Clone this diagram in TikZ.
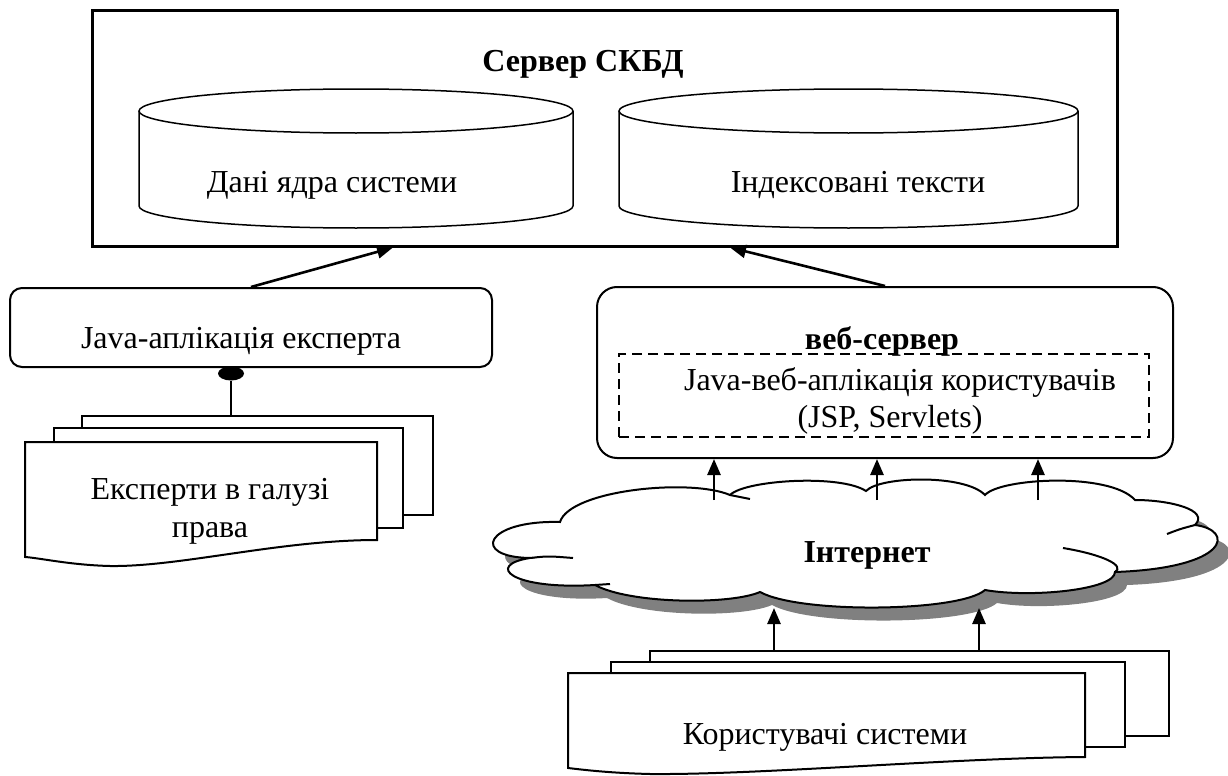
\documentclass[tikz,border=0pt]{standalone}
\usepackage{fontspec}
\setmainfont{Liberation Serif}
\usetikzlibrary{arrows.meta,shapes.geometric,calc}

\tikzset{
  arr/.style={line width=1.3pt, -{Triangle[length=8pt,width=6.5pt]}},
  box/.style={draw, line width=1pt, fill=white, inner sep=0pt},
  lbl/.style={anchor=base, inner sep=0pt},
  sheet/.style={draw, line width=1pt, fill=white},
  dbase/.style={draw, line width=0.75pt, fill=white},
}
% outline of the internet cloud, clockwise from the upper left
\newcommand{\inetcloud}{(560,522) .. controls (570,490) and (690,478) .. (730,495)
  .. controls (745,480) and (840,474) .. (866,491)
  .. controls (880,476) and (965,474) .. (985,495)
  .. controls (1000,478) and (1110,472) .. (1135,500)
  .. controls (1170,500) and (1210,510) .. (1195,525)
  .. controls (1235,530) and (1230,568) .. (1115,572)
  .. controls (1115,590) and (1030,598) .. (985,590)
  .. controls (960,612) and (800,614) .. (760,592)
  .. controls (730,605) and (630,604) .. (595,585)
  .. controls (510,590) and (485,565) .. (530,558)
  .. controls (470,557) and (485,520) .. (560,522) -- cycle}

\begin{document}
\begin{tikzpicture}[x=0.5pt, y=-0.5pt, font=\fontsize{16}{19}\selectfont]
  \useasboundingbox (0,0) rectangle (1228,776);

  % DBMS server
  \node[box, line width=1.5pt, minimum width=512.5pt, minimum height=118pt] (dbms) at (604.5,128) {};
  \node[lbl] (dbmstitle) at (583,71) {\bfseries Сервер СКБД};

  \path[dbase] (139,111) -- (139,206) arc[start angle=180, end angle=0, x radius=217, y radius=22] -- (573,111);
  \draw[line width=0.75pt] (356,111) ellipse [x radius=217, y radius=22];
  \node[lbl] (coredata) at (332,192) {Дані ядра системи};

  \path[dbase] (619,111) -- (619,206) arc[start angle=180, end angle=0, x radius=229.5, y radius=22] -- (1078,111);
  \draw[line width=0.75pt] (848.5,111) ellipse [x radius=229.5, y radius=22];
  \node[lbl] (indexed) at (858,192) {Індексовані тексти};

  % expert side
  \node[box, rounded corners=6pt, minimum width=241pt, minimum height=39.5pt] (javabox) at (251,327.5) {};
  \node[lbl] (javatxt) at (241,348) {Java-аплікація експерта};
  \draw[arr] (javabox.north) -- (393,0 |- dbms.south);

  \path[sheet] (82,416) rectangle (433,515);
  \path[sheet] (54,428) rectangle (403,528);
  \path[sheet] (25,442) -- (377,442) -- (377,540) .. controls (280,540) and (180,567) .. (110,566) .. controls (70,565) and (40,558) .. (25,557) -- cycle;
  \node[lbl, align=center] (experts) at (210,537) {Експерти в галузі\\права};
  \coordinate (exptop) at (231,416);
  \node[ellipse, fill, inner sep=0pt, minimum width=13pt, minimum height=7pt] (expdot) at (231,373.5) {};
  \draw[line width=1pt] (expdot) -- (exptop);

  % web server
  \node[box, rounded corners=10pt, minimum width=288pt, minimum height=85.5pt] (webbox) at (885,372.5) {};
  \node[draw, line width=1pt, dash pattern=on 5pt off 3pt, minimum width=265pt, minimum height=41.5pt] (webapp) at (884,395.5) {};
  \node[lbl] (webtitle) at (882,349) {\bfseries веб-сервер};
  \node[lbl] (webtxt) at (900,390) {Java-веб-аплікація користувачів};
  \node[lbl] (webtxt2) at (890,427) {(JSP, Servlets)};
  \draw[arr] (webbox.north) -- (730,0 |- dbms.south);

  % internet
  \fill[black!50, shift={(12,13)}] \inetcloud;
  \filldraw[fill=white, line width=1pt] \inetcloud;
  \draw[line width=1pt] (530,558) .. controls (548,556) .. (573,558);
  \draw[line width=1pt] (595,585) -- (610,584);
  \draw[line width=1pt] (1063,548) .. controls (1105,555) and (1125,566) .. (1115,572);
  \draw[line width=1pt] (1167,534) .. controls (1180,529) .. (1195,525);
  \draw[line width=1pt] (730,495) -- (750,499);
  \node[lbl] (inet) at (867,562) {\bfseries Інтернет};
  \coordinate (inettop) at (0,500);
  \coordinate (inetbot) at (0,608);
  \foreach \x in {714,877,1038}
    \draw[arr] (\x,0 |- inettop) -- (\x,0 |- webbox.south);

  % users
  \coordinate (usrtop) at (0,651);
  \path[sheet] (650,651) rectangle (1169,736);
  \path[sheet] (611,662) rectangle (1125,747);
  \path[sheet] (568,673) -- (1085,673) -- (1085,757) .. controls (950,758) and (760,775) .. (650,774) .. controls (610,773) and (585,770) .. (568,768) -- cycle;
  \node[lbl] (users) at (825,744) {Користувачі системи};
  \foreach \x in {774,979}
    \draw[arr] (\x,0 |- usrtop) -- (\x,0 |- inetbot);
\end{tikzpicture}
\end{document}
